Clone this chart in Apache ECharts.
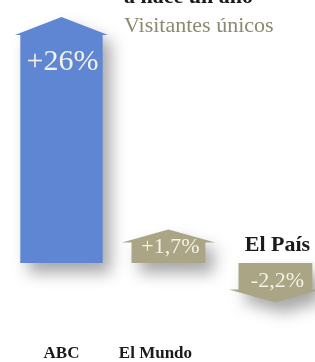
<!doctype html>
<html lang="es">
<head>
<meta charset="utf-8">
<title>Visitantes únicos</title>
<script src="https://cdn.jsdelivr.net/npm/echarts@6.0.0/dist/echarts.min.js"></script>
<style>
  html, body { margin: 0; padding: 0; background: #fff; }
  #main { width: 315px; height: 362px; }
</style>
</head>
<body>
<div id="main"></div>
<script type="text/javascript">
// datos
var categories = ['ABC', 'El Mundo', 'El País'];
var changes = [26, 1.7, -2.2];
var changeLabels = ['+26%', '+1,7%', '-2,2%'];

var colors = ['#5e86d3', '#aaa585', '#aaa585'];
var serif = '"Liberation Serif", "DejaVu Serif", serif';

function renderArrow(params, api) {
    var i = api.value(0);
    var v = api.value(1);
    var base = api.coord([i, 0]);
    var end = api.coord([i, v]);
    var band = api.size([1, 0])[0];
    var cx = base[0];
    var bw = i === 0 ? band * 0.77 : band * 0.69;
    var hw = band * 0.87;
    var hh = Math.abs(v) > 10 ? 18 : 13;
    var dir = v >= 0 ? -1 : 1;
    var tip = end[1] + dir * hh;
    var pts = [
        [cx - bw / 2, base[1]],
        [cx - bw / 2, end[1]],
        [cx - hw / 2, end[1]],
        [cx, tip],
        [cx + hw / 2, end[1]],
        [cx + bw / 2, end[1]],
        [cx + bw / 2, base[1]]
    ];
    var labelY, nameY;
    if (v >= 0) {
        labelY = Math.min(end[1] + 27, (tip + base[1]) / 2 + 1);
        nameY = base[1] + 91;
    } else {
        labelY = end[1] - 8;
        nameY = base[1] - 18;
    }
    var big = Math.abs(v) > 10;
    return {
        type: 'group',
        children: [{
            type: 'polygon',
            shape: { points: pts },
            style: {
                fill: colors[i],
                shadowBlur: 16,
                shadowOffsetX: 8,
                shadowOffsetY: 10,
                shadowColor: 'rgba(0,0,0,0.35)'
            }
        }, {
            type: 'text',
            x: cx + (big ? 1 : 2),
            y: labelY,
            style: {
                text: changeLabels[i],
                fill: '#f4f1e8',
                font: (big ? '30px ' : '22px ') + serif,
                align: 'center',
                verticalAlign: 'middle'
            }
        }, {
            type: 'text',
            x: v >= 0 ? cx - (i === 0 ? 0 : 13) : cx + 2,
            y: nameY,
            style: {
                text: categories[i],
                fill: '#1a1a1a',
                font: 'bold ' + (v >= 0 ? '17px ' : '22px ') + serif,
                align: 'center',
                verticalAlign: 'middle'
            }
        }]
    };
}

var chart = echarts.init(document.getElementById('main'));

var option = {
    backgroundColor: '#ffffff',
    animation: false,
    title: [{
        text: 'a hace un año',
        left: 124,
        top: -14,
        padding: 0,
        textStyle: { fontFamily: serif, fontSize: 22, fontWeight: 'bold', color: '#1a1a1a' }
    }, {
        text: 'Visitantes únicos',
        left: 124,
        top: 15,
        padding: 0,
        textStyle: { fontFamily: serif, fontSize: 22, fontWeight: 'normal', color: '#8b8a70' }
    }],
    grid: { left: 8, width: 307, top: 35, height: 288 },
    xAxis: {
        type: 'value',
        min: -0.5,
        max: 2.37,
        show: false
    },
    yAxis: {
        type: 'value',
        min: -5,
        max: 26,
        show: false,
        breaks: [{ start: 3, end: 23, gap: 13 }],
        breakArea: { show: false }
    },
    series: [{
        type: 'custom',
        renderItem: renderArrow,
        clip: false,
        data: changes.map(function (v, i) { return [i, v]; })
    }]
};

chart.setOption(option);
</script>
</body>
</html>
